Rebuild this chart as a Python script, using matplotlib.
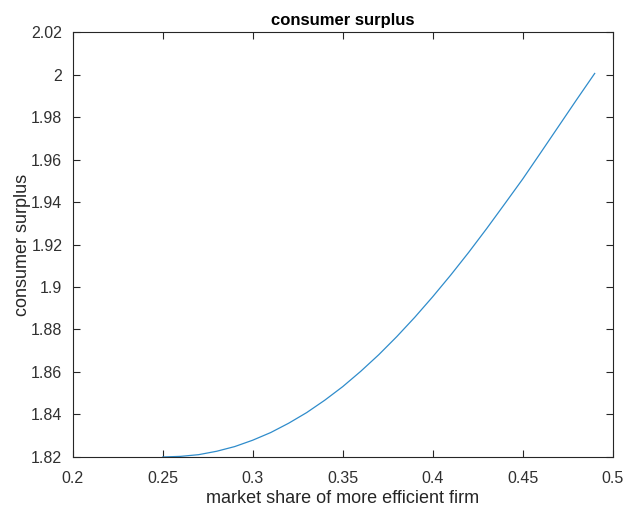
import matplotlib
matplotlib.use("Agg")
import matplotlib.pyplot as plt
from matplotlib.ticker import FuncFormatter

# valores
share = [0.25, 0.26, 0.27, 0.28, 0.29, 0.30, 0.31, 0.32, 0.33, 0.34,
         0.35, 0.36, 0.37, 0.38, 0.39, 0.40, 0.41, 0.42, 0.43, 0.44,
         0.45, 0.46, 0.47, 0.48, 0.49]
surplus = [1.8200, 1.8203, 1.8211, 1.8227, 1.8249, 1.8279, 1.8315, 1.8359,
           1.8409, 1.8467, 1.8531, 1.8603, 1.8681, 1.8766, 1.8857, 1.8954,
           1.9056, 1.9163, 1.9275, 1.9391, 1.9508, 1.9632, 1.9757, 1.9882,
           2.0005]

xticks = [0.2, 0.25, 0.3, 0.35, 0.4, 0.45, 0.5]
yticks = [1.82, 1.84, 1.86, 1.88, 1.9, 1.92, 1.94, 1.96, 1.98, 2.0, 2.02]

plt.rcParams['font.family'] = ['Liberation Sans', 'DejaVu Sans']

fig = plt.figure(figsize=(6.25, 5.08), dpi=100)
ax = fig.add_axes([0.1163, 0.1004, 0.864, 0.8366])

ax.plot(share, surplus, color='#2f8ccb', linewidth=0.9)

ax.set_xlim(0.2, 0.5)
ax.set_ylim(1.82, 2.02)
ax.set_xticks(xticks)
ax.set_yticks(yticks)
fmt = FuncFormatter(lambda v, p: '%g' % round(v, 4))
ax.xaxis.set_major_formatter(fmt)
ax.yaxis.set_major_formatter(fmt)

axis_col = '#262626'
for s in ax.spines.values():
    s.set_color(axis_col)
    s.set_linewidth(0.8)
ax.tick_params(direction='in', length=5, width=0.8, colors=axis_col,
               labelsize=11.5, top=True, right=True)
ax.tick_params(axis='x', pad=10)
ax.tick_params(axis='y', pad=7.5)
for lbl in ax.get_xticklabels() + ax.get_yticklabels():
    lbl.set_color('#303030')

ax.set_xlabel('market share of more efficient firm', fontsize=13, color='#262626', labelpad=3)
ax.set_ylabel('consumer surplus', fontsize=13, color='#262626', labelpad=0)
ax.set_title('consumer surplus', fontsize=12, fontweight='bold', pad=5)

fig.savefig('out.png', dpi=100)
